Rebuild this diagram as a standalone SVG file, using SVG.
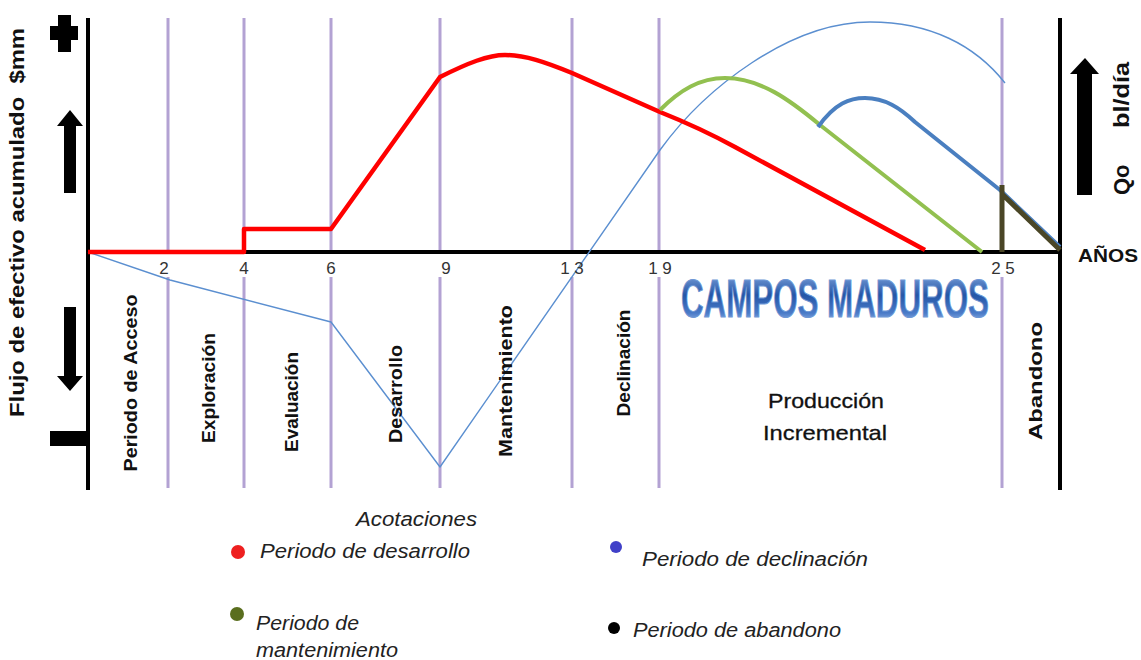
<svg xmlns="http://www.w3.org/2000/svg" width="1141" height="660" viewBox="0 0 1141 660">
<style>
.axis{stroke:#000;stroke-width:4;fill:none}
.grid{stroke:#b3a2d3;stroke-width:3;fill:none}
.num{font-family:"Liberation Sans",Arial,sans-serif;font-size:17px;fill:#333;text-anchor:middle}
.vlab{font-family:"Liberation Sans",Arial,sans-serif;font-size:18px;font-weight:bold;fill:#111;text-anchor:middle}
.ttl{font-family:"Liberation Sans",Arial,sans-serif;font-weight:bold;fill:#111}
.leg{font-family:"Liberation Sans",Arial,sans-serif;font-style:italic;font-size:20px;fill:#222}
.prod{font-family:"Liberation Sans",Arial,sans-serif;font-size:21px;fill:#111;stroke:#111;stroke-width:0.3;text-anchor:middle}
.crv{fill:none;stroke-linejoin:round;stroke-linecap:butt}
</style>
<defs>
<linearGradient id="gBlue" x1="0" y1="0" x2="0" y2="1">
<stop offset="0" stop-color="#8fb2e6"/>
<stop offset="0.45" stop-color="#2556a6"/>
<stop offset="0.75" stop-color="#4a7bc8"/>
<stop offset="1" stop-color="#bcd3f2"/>
</linearGradient>
</defs>
<rect width="1141" height="660" fill="#fff"/>

<g id="grid">
<path class="grid" d="M168,18V252M168,277V488M244,18V252M244,277V488M331,18V252M331,277V488M440,18V252M440,277V488M572,18V252M572,277V488M659,18V252M659,277V488M1002,18V252M1002,277V488"/>
</g>

<g id="axes">
<path class="axis" d="M88,18V490M1060,18V490M88,252H1060"/>
</g>

<g id="connectors">
<path class="crv" stroke="#5b8fd0" stroke-width="1.4" d="M88,252 L170,280 L331,322 L440,467 L660,150 C705,88 790,22 870,22 C930,22 975,45 1005,83"/>
<path class="crv" stroke="#ff0000" stroke-width="4.5" d="M88,252 H244 V229 H331 L440,77 C468,63 488,55 505,55 C525,55 545,62 572,73 L660,112 Q700,128 735,147 L925,250"/>
<path class="crv" stroke="#92c050" stroke-width="4" d="M660,110 C680,90 700,78 725,78 C760,78 790,100 820,125 L982,252"/>
<path class="crv" stroke="#4a7fc0" stroke-width="4" d="M818,127 C835,103 850,98 865,98 C885,98 900,108 915,122 L1000,190 L1060,247"/>
<path class="crv" stroke="#4a4626" stroke-width="5" d="M1002,185 V252 M1002,194 L1060,250"/>
</g>

<g id="tick-labels">
<text class="num" x="164" y="274">2</text>
<text class="num" x="244" y="274">4</text>
<text class="num" x="331" y="274">6</text>
<text class="num" x="446" y="274">9</text>
<text class="num" x="572" y="274" xml:space="preserve">1 3</text>
<text class="num" x="660" y="274" xml:space="preserve">1 9</text>
<text class="num" x="1003" y="274" xml:space="preserve">2 5</text>
<text class="ttl" x="1078" y="262" font-size="18" textLength="60" lengthAdjust="spacingAndGlyphs">AÑOS</text>
</g>

<g id="y-left">
<text class="ttl" font-size="20" transform="translate(24,417) rotate(-90)" textLength="389" lengthAdjust="spacingAndGlyphs" xml:space="preserve">Flujo de efectivo acumulado  $mm</text>
<path d="M58,15H71V26H78V40H71V52H58V40H50V26H58Z" fill="#000"/>
<polygon points="70,110 83,126 76,126 76,193 64,193 64,126 57,126" fill="#000"/>
<polygon points="64,307 76,307 76,376 83,376 70,391 57,376 64,376" fill="#000"/>
<rect x="50" y="431" width="36" height="15" fill="#000"/>
</g>

<g id="y-right">
<polygon points="1085,58 1099,74 1092,74 1092,195 1077,195 1077,74 1070,74" fill="#000"/>
<text class="ttl" font-size="22" transform="translate(1129,195) rotate(-90)">Qo</text>
<text class="ttl" font-size="22" transform="translate(1129,128) rotate(-90)" textLength="66" lengthAdjust="spacingAndGlyphs">bl/día</text>
</g>

<g id="phase-acceso"><text class="vlab" transform="translate(137,383) rotate(-90)" textLength="177" lengthAdjust="spacingAndGlyphs">Periodo de Acceso</text></g>
<g id="phase-exploracion"><text class="vlab" transform="translate(215,388) rotate(-90)" textLength="110" lengthAdjust="spacingAndGlyphs">Exploración</text></g>
<g id="phase-evaluacion"><text class="vlab" transform="translate(298,402) rotate(-90)" textLength="100" lengthAdjust="spacingAndGlyphs">Evaluación</text></g>
<g id="phase-desarrollo"><text class="vlab" transform="translate(402,394) rotate(-90)" textLength="98" lengthAdjust="spacingAndGlyphs">Desarrollo</text></g>
<g id="phase-mantenimiento"><text class="vlab" transform="translate(512,381) rotate(-90)" textLength="152" lengthAdjust="spacingAndGlyphs">Mantenimiento</text></g>
<g id="phase-declinacion"><text class="vlab" transform="translate(630,363) rotate(-90)" textLength="107" lengthAdjust="spacingAndGlyphs">Declinación</text></g>
<g id="phase-abandono"><text class="vlab" transform="translate(1042,381) rotate(-90)" textLength="118" lengthAdjust="spacingAndGlyphs">Abandono</text></g>
<g id="phase-produccion">
<text class="prod" x="826" y="408" textLength="116" lengthAdjust="spacingAndGlyphs">Producción</text>
<text class="prod" x="825" y="440" textLength="124" lengthAdjust="spacingAndGlyphs">Incremental</text>
</g>

<g id="title">
<text transform="translate(681,317) scale(0.58,1)" font-family="'Liberation Sans',Arial,sans-serif" font-weight="bold" font-size="54" fill="url(#gBlue)" stroke="#6f98d6" stroke-width="1">CAMPOS MADUROS</text>
</g>

<g id="legend">
<text class="leg" x="356" y="526" textLength="121" lengthAdjust="spacingAndGlyphs">Acotaciones</text>
<circle cx="238" cy="552" r="7" fill="#ee2020"/>
<text class="leg" x="260" y="558" textLength="210" lengthAdjust="spacingAndGlyphs">Periodo de desarrollo</text>
<circle cx="616" cy="547" r="6" fill="#4040c8"/>
<text class="leg" x="642" y="566" textLength="226" lengthAdjust="spacingAndGlyphs">Periodo de declinación</text>
<circle cx="237" cy="614" r="7" fill="#5a6e1e"/>
<text class="leg" x="256" y="630" textLength="103" lengthAdjust="spacingAndGlyphs">Periodo de</text>
<text class="leg" x="256" y="657" textLength="142" lengthAdjust="spacingAndGlyphs">mantenimiento</text>
<circle cx="614" cy="628" r="6" fill="#000"/>
<text class="leg" x="633" y="637" textLength="208" lengthAdjust="spacingAndGlyphs">Periodo de abandono</text>
</g>
</svg>
